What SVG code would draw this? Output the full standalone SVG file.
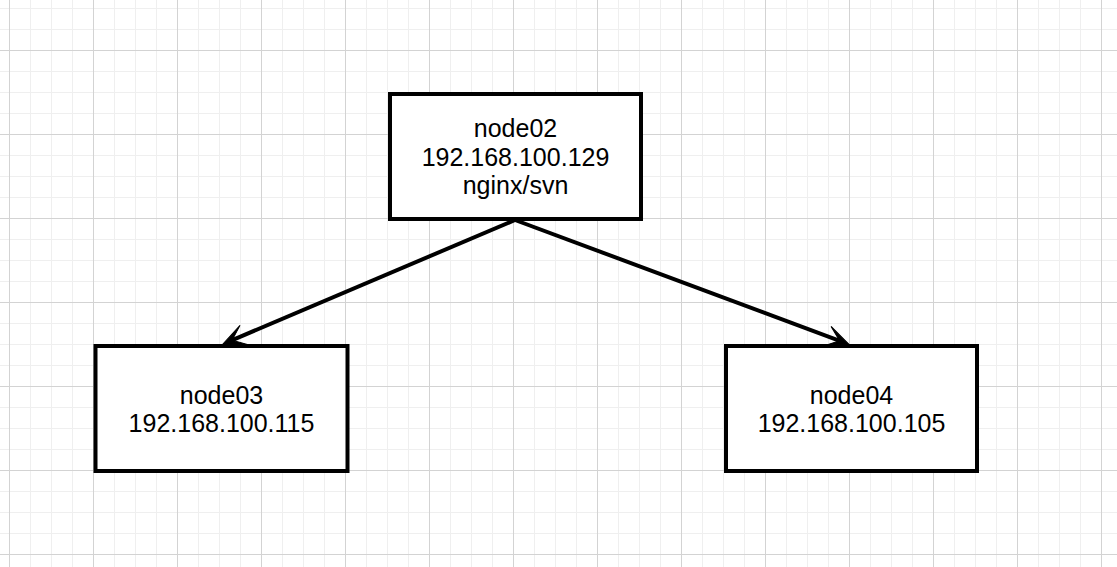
<svg xmlns="http://www.w3.org/2000/svg" width="1117" height="567" viewBox="0 0 1117 567">
  <style>
    .box { fill: #ffffff; stroke: #000000; stroke-width: 4; }
    .lbl { font-family: "Liberation Sans", Arial, sans-serif; font-size: 25px; fill: #000000; text-anchor: middle; }
    .edge { fill: none; stroke: #000000; stroke-width: 4; }
  </style>
  <defs>
    <pattern id="minor" patternUnits="userSpaceOnUse" x="9" y="8" width="21" height="21">
      <path d="M0.5,0 V21 M0,0.5 H21" stroke="#efefef" stroke-width="1" fill="none"/>
    </pattern>
    <pattern id="major" patternUnits="userSpaceOnUse" x="9" y="50" width="84" height="84">
      <path d="M0.5,0 V84 M0,0.5 H84" stroke="#d3d3d3" stroke-width="1" fill="none"/>
    </pattern>
    <marker id="arrow" markerUnits="userSpaceOnUse" viewBox="-17 -12 26 24" refX="0" refY="0" markerWidth="26" markerHeight="24" orient="auto" overflow="visible">
      <path d="M7,0 L-16,-10.5 L-3,0 L-16,10.5 Z" fill="#000000" stroke="#000000" stroke-width="1"/>
    </marker>
  </defs>
  <rect width="1117" height="567" fill="#ffffff"/>
  <rect width="1117" height="567" fill="url(#minor)"/>
  <rect width="1117" height="567" fill="url(#major)"/>

  <g id="connectors">
    <line class="edge" x1="515" y1="220" x2="229.4" y2="341.3" marker-end="url(#arrow)"/>
    <line class="edge" x1="515" y1="220" x2="842.4" y2="341.8" marker-end="url(#arrow)"/>
  </g>

  <g id="node02">
    <rect class="box" x="390" y="94" width="251" height="125"/>
    <text class="lbl" x="515.5" y="137">node02</text>
    <text class="lbl" x="515.5" y="165.5">192.168.100.129</text>
    <text class="lbl" x="515.5" y="194">nginx/svn</text>
  </g>

  <g id="node03">
    <rect class="box" x="95.5" y="346" width="252" height="125"/>
    <text class="lbl" x="221.5" y="403.5">node03</text>
    <text class="lbl" x="221.5" y="432">192.168.100.115</text>
  </g>

  <g id="node04">
    <rect class="box" x="726" y="346" width="251" height="125"/>
    <text class="lbl" x="851.5" y="403.5">node04</text>
    <text class="lbl" x="851.5" y="432">192.168.100.105</text>
  </g>
</svg>
